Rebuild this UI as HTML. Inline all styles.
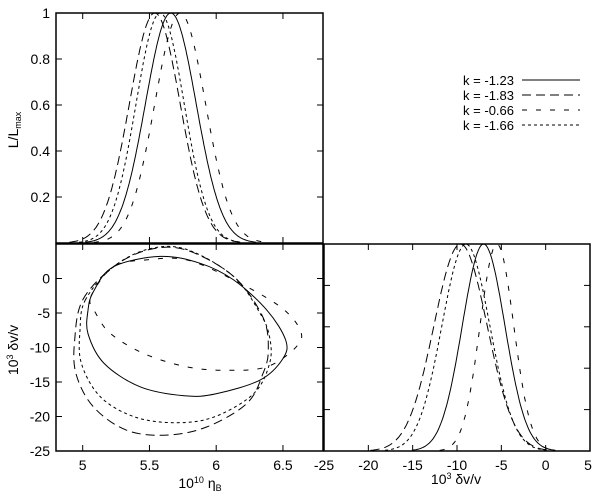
<!DOCTYPE html>
<html><head><meta charset="utf-8"><style>
body{margin:0;background:#fff;}
svg text{font-family:"Liberation Sans",sans-serif;fill:#000;}
</style></head><body>
<svg id="c" width="600" height="491" xmlns="http://www.w3.org/2000/svg"></svg>
<script>
const seriesNames=["k = -1.23","k = -1.83","k = -0.66","k = -1.66"];
const dashes=["","9,5","5,9","3,3"];
// top panel: likelihood vs eta (gaussian mean, sigma)
const etaMean=[5.66,5.54,5.73,5.58];
const etaSigma=[0.19,0.19,0.19,0.18];
// bottom-right: likelihood vs dv/v
const dvMean=[-7,-9.6,-5.5,-9.0];
const dvSigma=[2.4,3.0,1.9,2.7];
// contour points (eta, dv/v) per series
const contourEta=[
 [5.08,5.23,5.58,5.88,6.13,6.38,6.52,6.5,6.33,6.0,5.76,5.43,5.16,5.04,5.04],
 [5.0,5.23,5.5,5.78,6.13,6.35,6.39,6.35,6.23,5.93,5.63,5.33,5.08,4.95,4.94],
 [5.06,5.23,5.48,5.78,6.13,6.48,6.63,6.6,6.38,6.08,5.78,5.46,5.21,5.1],
 [5.02,5.23,5.5,5.78,6.13,6.33,6.4,6.4,6.28,5.98,5.68,5.38,5.13,4.99,4.98]
];
const contourDv=[
 [-1.9,1.7,3.2,2.2,-0.2,-4.6,-8.9,-11.6,-14.7,-16.7,-17,-15.7,-12.3,-8,-4.6],
 [-3.1,1.7,4.2,4.1,0.3,-5.6,-10.4,-13.8,-18.1,-21.5,-22.7,-22,-18.6,-13.8,-8.9],
 [-2.7,1.7,2.7,2.7,-0.2,-4.1,-7.5,-9.9,-12.8,-13.3,-12.8,-10.9,-8,-5.1],
 [-3.1,1.7,4.3,4.2,0.3,-5.1,-8.5,-12.3,-16.7,-20.1,-20.9,-20,-17.1,-12.3,-7.5]
];
const etaTicks=[5,5.5,6,6.5];
const likTicks=[0.2,0.4,0.6,0.8,1];
const likLabels=["0.2","0.4","0.6","0.8","1"];
const dvTicks=[-25,-20,-15,-10,-5,0];
const dvXTicks=[-25,-20,-15,-10,-5,0,5];

const svg=document.getElementById('c');
const NS="http://www.w3.org/2000/svg";
function el(t,a,p){const e=document.createElementNS(NS,t);for(const k in a)e.setAttribute(k,a[k]);(p||svg).appendChild(e);return e;}
const P1={x0:56,x1:323,y0:13,y1:243};
const P2={x0:56,x1:323,y0:244,y1:451};
const P3={x0:324,x1:590,y0:244,y1:451};
const ex=v=>P1.x0+(v-4.8)/2.0*(P1.x1-P1.x0);
const ly1=v=>P1.y1-v*(P1.y1-P1.y0);
const dy2=v=>P2.y1-(v+25)/30*(P2.y1-P2.y0);
const dx3=v=>P3.x0+(v+25)/30*(P3.x1-P3.x0);
const ly3=v=>P3.y1-v*(P3.y1-P3.y0);

function frame(P,name){const r=el('rect',{x:P.x0,y:P.y0,width:P.x1-P.x0,height:P.y1-P.y0,fill:'none',stroke:'#000','stroke-width':1.5});

}
frame(P1,'top-panel-frame');frame(P2,'contour-panel-frame');frame(P3,'right-panel-frame');

function tick(x1,y1,x2,y2){const t=el('line',{x1,y1,x2,y2,stroke:'#000','stroke-width':1});

}
function label(x,y,s,anchor,name){const t=el('text',{x,y,'font-size':14,'text-anchor':anchor||'middle'});t.textContent=s;

return t;}

etaTicks.forEach(v=>{const x=ex(v);tick(x,P1.y0,x,P1.y0+6);tick(x,P1.y1,x,P1.y1-6);tick(x,P2.y0,x,P2.y0+6);tick(x,P2.y1,x,P2.y1-6);
label(x,470,String(v),'middle','x-tick-label-eta');});
likTicks.forEach((v,i)=>{const y=ly1(v);tick(P1.x0,y,P1.x0+6,y);tick(P1.x1,y,P1.x1-6,y);label(50,y+5,likLabels[i],'end','y-tick-label-likelihood');});
likTicks.slice(0,4).forEach(v=>{const y=ly3(v);tick(P3.x0,y,P3.x0+6,y);tick(P3.x1,y,P3.x1-6,y);});
dvTicks.forEach(v=>{const y=dy2(v);tick(P2.x0,y,P2.x0+6,y);tick(P2.x1,y,P2.x1-6,y);label(50,y+5,String(v),'end','y-tick-label-dv');});
dvXTicks.forEach(v=>{const x=dx3(v);tick(x,P3.y0,x,P3.y0+6);tick(x,P3.y1,x,P3.y1-6);label(v==5?x-2:x,470,String(v),'middle','x-tick-label-dv');});

let t=el('text',{x:0,y:0,'font-size':14,transform:'translate(18,130) rotate(-90)','text-anchor':'middle'});
t.innerHTML='L/L<tspan font-size="9" dy="3">max</tspan>';


t=el('text',{x:0,y:0,'font-size':14,transform:'translate(18,350) rotate(-90)','text-anchor':'middle'});
t.innerHTML='10<tspan font-size="9" dy="-5">3</tspan><tspan dy="5"> δv/v</tspan>';


t=el('text',{x:200,y:488,'font-size':14,'text-anchor':'middle'});
t.innerHTML='10<tspan font-size="9" dy="-5">10</tspan><tspan dy="5"> η</tspan><tspan font-size="9" dy="3">B</tspan>';


t=el('text',{x:456,y:484,'font-size':14,'text-anchor':'middle'});
t.innerHTML='10<tspan font-size="9" dy="-5">3</tspan><tspan dy="5"> δv/v</tspan>';



function path(pts,i,name){const d='M'+pts.map(p=>p[0].toFixed(1)+','+p[1].toFixed(1)).join('L');
const p=el('path',{d,fill:'none',stroke:'#000','stroke-width':1,'stroke-dasharray':dashes[i]});

}
function closedSpline(P,i,name){const n=P.length;let d='M'+P[0][0].toFixed(1)+','+P[0][1].toFixed(1);
for(let k=0;k<n;k++){const p0=P[(k-1+n)%n],p1=P[k],p2=P[(k+1)%n],p3=P[(k+2)%n];
const c1=[p1[0]+(p2[0]-p0[0])/6,p1[1]+(p2[1]-p0[1])/6],c2=[p2[0]-(p3[0]-p1[0])/6,p2[1]-(p3[1]-p1[1])/6];
d+='C'+c1.map(v=>v.toFixed(1)).join(',')+' '+c2.map(v=>v.toFixed(1)).join(',')+' '+p2.map(v=>v.toFixed(1)).join(',');}
const p=el('path',{d,fill:'none',stroke:'#000','stroke-width':1,'stroke-dasharray':dashes[i]});

}

seriesNames.forEach((s,i)=>{
  let pts=[];
  for(let k=0;k<=200;k++){const v=4.9+k*(6.5-4.9)/200;const g=Math.exp(-0.5*Math.pow((v-etaMean[i])/etaSigma[i],2));if(g>0.003)pts.push([ex(v),ly1(g)]);}
  path(pts,i,'eta-likelihood-curve-'+i);
  pts=[];
  for(let k=0;k<=200;k++){const v=-25+k*30/200;const g=Math.exp(-0.5*Math.pow((v-dvMean[i])/dvSigma[i],2));if(g>0.003)pts.push([dx3(v),ly3(g)]);}
  path(pts,i,'dv-likelihood-curve-'+i);
  const cp=contourEta[i].map((e,k)=>[ex(e),dy2(contourDv[i][k])]);
  closedSpline(cp,i,'contour-'+i);
  const y=80+i*15;
  const lt=el('text',{x:514,y:y+5,'font-size':13,'text-anchor':'end'});lt.textContent=s;
  
  
  const ll=el('line',{x1:522,y1:y,x2:580,y2:y,stroke:'#000','stroke-width':1,'stroke-dasharray':dashes[i]});
  
  
});
</script>
</body></html>
